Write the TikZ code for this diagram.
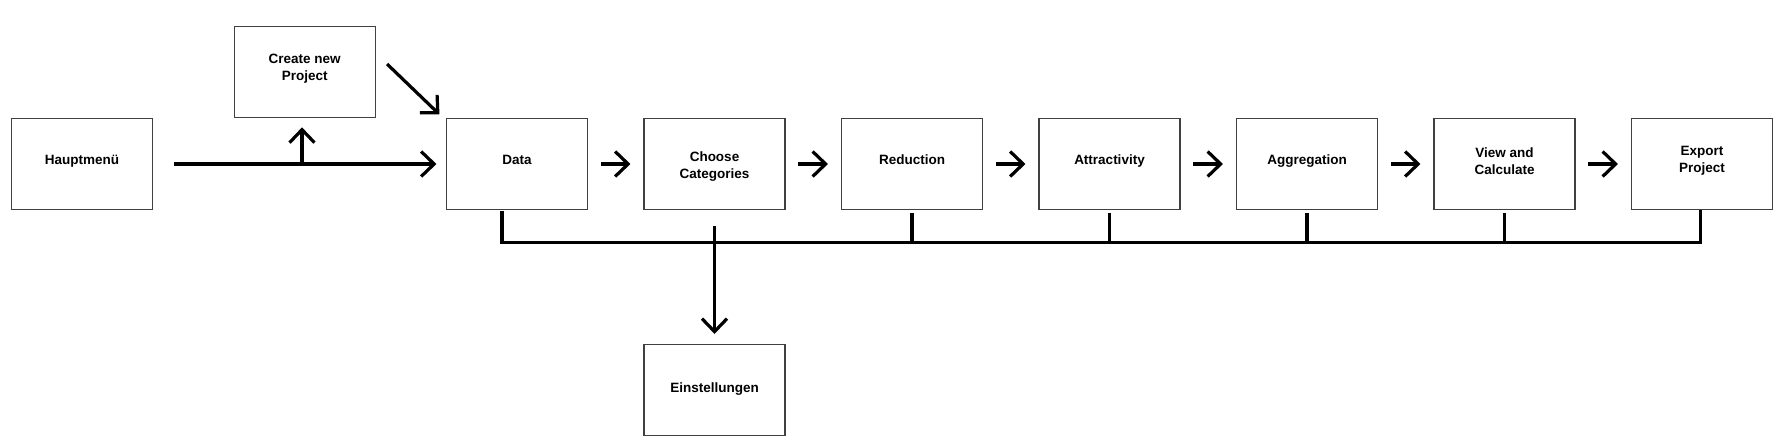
\documentclass[tikz,border=0pt]{standalone}
\usepackage{fontspec}
\setmainfont{Liberation Sans}
\usetikzlibrary{arrows.meta}
\begin{document}
\begin{tikzpicture}[x=1pt,y=-1pt,
  box/.style={draw=black!75, line width=1.1pt, minimum width=141pt, minimum height=91pt, inner sep=0pt},
  lbl/.style={font=\fontsize{13.5}{17}\selectfont\bfseries, align=center, inner sep=0pt},
  one/.style={lbl, anchor=base},
  conn/.style={line width=3.2pt, black},
  arr/.style={conn, -{Straight Barb[length=13pt,width=25pt]}},
]
\useasboundingbox (0,0) rectangle (1786,439);

% boxes
\node[box] (haupt)  at (82,164) {};
\node[box] (create) at (304.7,72.3) {};
\node[box] (data)   at (517,164) {};
\node[box] (choose) at (714.5,164) {};
\node[box] (red)    at (912,164) {};
\node[box] (attr)   at (1109.5,164) {};
\node[box] (aggr)   at (1307,164) {};
\node[box] (view)   at (1504.5,164) {};
\node[box] (export) at (1702,164) {};
\node[box] (einst)  at (714.5,390) {};

% labels
\node[one] (hauptL)  at (haupt.center)  {Hauptmenü};
\node[lbl] (createL) at ([yshift=3.3pt]create.center) {Create new\\Project};
\node[one] (dataL)   at (data.center)   {Data};
\node[lbl] (chooseL) at ([yshift=-2.4pt]choose.center) {Choose\\Categories};
\node[one] (redL)    at (red.center)    {Reduction};
\node[one] (attrL)   at (attr.center)   {Attractivity};
\node[one] (aggrL)   at (aggr.center)   {Aggregation};
\node[lbl] (viewL)   at ([yshift=3.3pt]view.center)   {View and\\Calculate};
\node[lbl] (exportL) at ([yshift=3.3pt]export.center) {Export\\Project};
\node[one] (einstL)  at ([yshift=-2.3pt]einst.center)  {Einstellungen};

% main arrow Hauptmenü -> Data
\draw[arr, shorten <=20.5pt, shorten >=9.5pt] (haupt.east) -- (data.west);
% branch up to Create new Project
\coordinate (j) at (302,164);
\draw[arr, shorten >=9pt] (j) -- (j |- create.south);
% diagonal Create -> Data
\draw[arr] ([shift={(11.3,-8.3)}]create.east) -- ([shift={(-6.5,-3.5)}]data.north west);

% small arrows between steps
\foreach \a/\b in {data/choose, choose/red, red/attr, attr/aggr, aggr/view, view/export}
  \draw[arr, shorten <=12.5pt, shorten >=13pt] (\a.east) -- (\b.west);

% bus line
\coordinate (b0) at (502,242.6);
\coordinate (b1) at (1700.5,242.6);
\draw[conn, line cap=rect] ([yshift=-2.5pt]data.south -| b0) -- (b0) -- (b1) -- ([yshift=-2pt]export.south -| b1);
\foreach \n in {red, attr, aggr, view}
  \draw[conn] ([yshift=-3pt]\n.south) -- (\n.south |- b0);
% to Einstellungen
\draw[arr, shorten >=10pt] ([yshift=-16pt]choose.south) -- (einst.north);
\end{tikzpicture}
\end{document}
